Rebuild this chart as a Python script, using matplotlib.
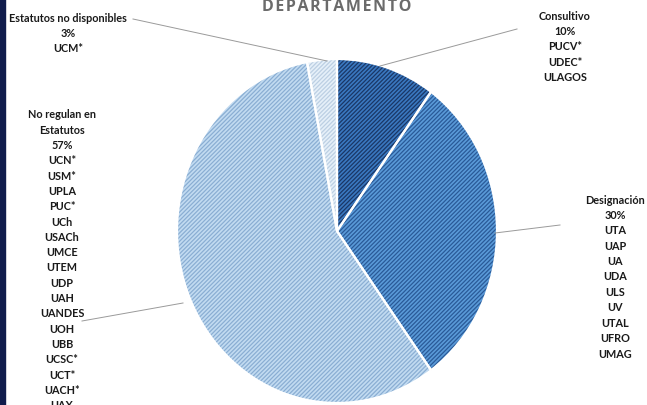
import matplotlib
matplotlib.use("Agg")
import matplotlib.pyplot as plt
from matplotlib.lines import Line2D
from matplotlib.patches import Rectangle

# datos del grafico
categorias = ["Consultivo", "Designación", "No regulan en\nEstatutos", "Estatutos no disponibles"]
porcentajes = [10, 30, 57, 3]
universidades = [
    ["PUCV*", "UDEC*", "ULAGOS"],
    ["UTA", "UAP", "UA", "UDA", "ULS", "UV", "UTAL", "UFRO", "UMAG"],
    ["UCN*", "USM*", "UPLA", "PUC*", "UCh", "USACh", "UMCE", "UTEM", "UDP",
     "UAH", "UANDES", "UOH", "UBB", "UCSC*", "UCT*", "UACH*", "UAX"],
    ["UCM*"],
]
colores = ["#3a78c0", "#5a9ad8", "#c2dbf1", "#e6f0f9"]
rayas = ["#1a3766", "#2a5a98", "#8aaed3", "#bccfe3"]

W, H = 647, 406
fig = plt.figure(figsize=(W / 100, H / 100), dpi=100)
fig.patch.set_facecolor("white")

# torta (un poco eliptica como en la imagen escaneada)
cx, cy, rx, ry = 337, 232, 160, 172
ax = fig.add_axes([(cx - rx) / W, 1 - (cy + ry) / H, 2 * rx / W, 2 * ry / H])
plt.rcParams["hatch.linewidth"] = 0.9
wedges, _ = ax.pie(porcentajes, colors=colores, startangle=90, counterclock=False,
                   wedgeprops=dict(linewidth=0))
for w, c in zip(wedges, rayas):
    w.set_hatch("////////")
    w.set_edgecolor(c)
# bordes blancos entre porciones
ax.pie(porcentajes, colors=["none"] * 4, startangle=90, counterclock=False,
       wedgeprops=dict(linewidth=1.6, edgecolor="white"))
ax.set_aspect("auto")
ax.set_xlim(-1, 1)
ax.set_ylim(-1, 1)

# franja azul del borde izquierdo
fig.patches.append(Rectangle((0, 0), 5 / W, 1, transform=fig.transFigure,
                             color="#101c4c", zorder=5))

# titulo
fig.text(cx / W, 1 - 7 / H, "\u200a".join("DEPARTAMENTO"),
         ha="center", va="center", fontsize=11.5, fontweight="bold",
         color="#6b6b6b", family=["Open Sans", "DejaVu Sans"])

def etiqueta(x, y0, lineas, paso=15.4):
    for i, t in enumerate(lineas):
        fig.text(x / W, 1 - (y0 + i * paso) / H, t, ha="center", va="center",
                 fontsize=7.8, color="#1a1a1a", family=["Lato", "DejaVu Sans"],
                 fontweight="bold")

etiqueta(565, 16, [categorias[0], f"{porcentajes[0]}%"] + universidades[0])
etiqueta(615, 200, [categorias[1], f"{porcentajes[1]}%"] + universidades[1])
etiqueta(62, 115, categorias[2].split("\n") + [f"{porcentajes[2]}%"] + universidades[2], paso=15.3)
etiqueta(68, 18, [categorias[3], f"{porcentajes[3]}%"] + universidades[3])

# lineas guia
guias = [
    ((380, 67), (517, 30)),
    ((495, 234), (560, 226)),
    ((183, 304), (82, 322)),
    ((327, 62), (133, 20)),
]
for (x1, y1), (x2, y2) in guias:
    fig.lines.append(Line2D([x1 / W, x2 / W], [1 - y1 / H, 1 - y2 / H],
                            transform=fig.transFigure, color="#9a9a9a", lw=0.7))

fig.savefig("out.png", dpi=100)
